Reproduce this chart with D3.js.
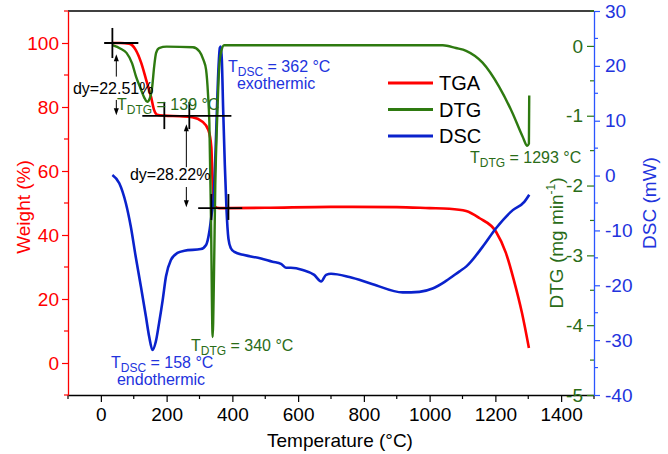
<!DOCTYPE html>
<html><head><meta charset="utf-8">
<script src="https://cdn.jsdelivr.net/npm/d3@7/dist/d3.min.js"></script>
<style>
body{margin:0;background:#fff;}
svg{display:block;font-family:"Liberation Sans",Arial,Helvetica,sans-serif;}
</style></head>
<body><svg id="c" width="668" height="454"></svg>
<script>
// ---------- data ----------
const tgaT = [35, 60, 86, 105, 123, 138, 153, 162, 171, 193, 240, 278, 308, 327, 336, 339, 345, 360, 500, 700, 900, 1000, 1060, 1111, 1151, 1202, 1232, 1256, 1281, 1302];
const tgaW = [100, 100, 99.8, 98, 93.7, 88.4, 83, 79, 77.6, 77.3, 77.1, 76.8, 75.5, 72.8, 67.5, 59, 49, 48.4, 48.5, 48.8, 48.7, 48.4, 48.2, 47.5, 45.3, 41, 34.4, 26, 15.6, 4.7];

const dtgT = [35, 60, 78, 95, 107, 120, 132, 141, 149, 156, 162, 168, 177, 200, 280, 300, 312, 320, 326, 330, 335, 340, 344, 348, 354, 360, 366, 375, 600, 900, 1040, 1080, 1111, 1161, 1212, 1252, 1283, 1297, 1302, 1303];
const dtgV = [0.01, -0.04, -0.1, -0.25, -0.44, -0.6, -0.74, -0.8, -0.75, -0.59, -0.3, -0.1, -0.03, -0.01, -0.02, -0.08, -0.2, -0.34, -0.7, -1.1, -2.5, -4.17, -3.3, -2.0, -1.0, -0.3, -0.08, 0.01, 0.01, 0.01, 0.01, -0.03, -0.07, -0.24, -0.59, -0.96, -1.3, -1.43, -1.4, -0.71];

const dscT = [35, 56, 76, 91, 106, 122, 137, 147, 157, 167, 177, 188, 198, 213, 233, 254, 304, 320, 330, 337, 343, 348, 353, 358, 362, 365, 368, 372, 377, 382, 388, 395, 406, 436, 487, 522, 548, 563, 578, 614, 649, 670, 685, 700, 756, 827, 918, 969, 1009, 1050, 1090, 1111, 1161, 1202, 1253, 1288, 1303];
const dscV = [0.1, -1.4, -5.05, -9.3, -14.8, -20.3, -25.7, -29.4, -31.8, -30.3, -26.9, -22.7, -18.4, -15.4, -14.1, -13.7, -13.4, -12.65, -10.2, -7, -4, 3, 12, 20, 23.3, 23.5, 21, 12, 2, -6, -11.5, -13.2, -13.9, -14.5, -15.1, -15.7, -16.1, -16.8, -16.8, -17.2, -18.1, -19.3, -18.1, -17.9, -18.5, -19.8, -21.3, -21.2, -20.6, -19.2, -17.5, -16.6, -13.0, -9.6, -6.3, -4.8, -3.5];

const xTicks = [0, 200, 400, 600, 800, 1000, 1200, 1400];
const xMinor = [-100, 100, 300, 500, 700, 900, 1100, 1300, 1500];
const wTicks = [0, 20, 40, 60, 80, 100];
const wMinor = [-10, 10, 30, 50, 70, 90, 110];
const dtgTicks = [0, -1, -2, -3, -4, -5];
const dtgMinor = [0.5, -0.5, -1.5, -2.5, -3.5, -4.5];
const dscTicks = [30, 20, 10, 0, -10, -20, -30, -40];
const dscMinor = [25, 15, 5, -5, -15, -25, -35];
const seriesNames = ["TGA", "DTG", "DSC"];

// ---------- colours ----------
const RED = "#ff0000", GREEN = "#2e7a10", GREEN_T = "#2a6c18", BLUE = "#0a22cc", BLUE_AX = "#2a55ff", BLUE_T = "#2233dd";

const svg = d3.select("#c");
const L = 68, R = 594, T = 11, B = 395;
const x = d3.scaleLinear([-100, 1500], [L, R]);
const yW = d3.scaleLinear([-10, 110], [B, T]);
const yD = d3.scaleLinear([-5, 0.5], [B, T]);
const yS = d3.scaleLinear([-40, 30], [B, T]);
const fmt = d => String(d);
const FS = 19;

// ---------- curves ----------
const lineW = d3.line().x(d => x(d[0])).y(d => yW(d[1])).curve(d3.curveMonotoneX);
const lineD = d3.line().x(d => x(d[0])).y(d => yD(d[1])).curve(d3.curveMonotoneX);
const lineS = d3.line().x(d => x(d[0])).y(d => yS(d[1])).curve(d3.curveMonotoneX);
const tga = d3.zip(tgaT, tgaW), dtg = d3.zip(dtgT, dtgV), dsc = d3.zip(dscT, dscV);

svg.append("path").attr("d", lineW(tga)).attr("fill", "none").attr("stroke", RED).attr("stroke-width", 2.6);
svg.append("path").attr("d", lineS(dsc)).attr("fill", "none").attr("stroke", BLUE).attr("stroke-width", 2.6);
svg.append("path").attr("d", lineD(dtg)).attr("fill", "none").attr("stroke", GREEN).attr("stroke-width", 2.4);

// ---------- axes ----------
// top frame
svg.append("line").attr("x1", L).attr("x2", R).attr("y1", T).attr("y2", T).attr("stroke", "#000").attr("stroke-width", 1.3);

function styleAxis(g, col, tcol) {
  g.selectAll("path").attr("stroke", col).attr("stroke-width", 1.3);
  g.selectAll("line").attr("stroke", col).attr("stroke-width", 1.2);
  g.selectAll("text").attr("fill", tcol).attr("font-size", FS).attr("font-family", "Liberation Sans, Arial, sans-serif");
}
// bottom
const gx = svg.append("g").attr("transform", `translate(0,${B})`)
  .call(d3.axisBottom(x).tickValues(xTicks).tickFormat(fmt).tickSizeInner(7).tickSizeOuter(0).tickPadding(6));
styleAxis(gx, "#000", "#000");
gx.selectAll(".minor").data(xMinor).enter().append("line").attr("x1", d => x(d)).attr("x2", d => x(d)).attr("y1", 0).attr("y2", 4).attr("stroke", "#000").attr("stroke-width", 1.2);

// left (weight)
const gl = svg.append("g").attr("transform", `translate(${L},0)`)
  .call(d3.axisLeft(yW).tickValues(wTicks).tickFormat(fmt).tickSizeInner(6).tickSizeOuter(0).tickPadding(3));
styleAxis(gl, RED, RED);
gl.selectAll(".minor").data(wMinor).enter().append("line").attr("y1", d => yW(d)).attr("y2", d => yW(d)).attr("x1", 0).attr("x2", -4).attr("stroke", RED).attr("stroke-width", 1.2);

// right inner (DTG)
const gd = svg.append("g").attr("transform", `translate(${R},0)`)
  .call(d3.axisLeft(yD).tickValues(dtgTicks).tickFormat(fmt).tickSizeInner(7).tickSizeOuter(0).tickPadding(4));
styleAxis(gd, GREEN, GREEN_T);
gd.select("path").remove();
gd.selectAll(".minor").data(dtgMinor).enter().append("line").attr("y1", d => yD(d)).attr("y2", d => yD(d)).attr("x1", 0).attr("x2", -4).attr("stroke", GREEN).attr("stroke-width", 1.2);

// right outer (DSC)
const gs = svg.append("g").attr("transform", `translate(${R},0)`)
  .call(d3.axisRight(yS).tickValues(dscTicks).tickFormat(fmt).tickSizeInner(6).tickSizeOuter(0).tickPadding(5));
styleAxis(gs, BLUE_AX, BLUE_T);
gs.selectAll(".minor").data(dscMinor).enter().append("line").attr("y1", d => yS(d)).attr("y2", d => yS(d)).attr("x1", 0).attr("x2", 4).attr("stroke", BLUE_AX).attr("stroke-width", 1.2);

// axis titles
svg.append("text").attr("x", 340).attr("y", 447).attr("text-anchor", "middle").attr("font-size", FS).text("Temperature (°C)");
svg.append("text").attr("transform", "translate(30,207) rotate(-90)").attr("text-anchor", "middle").attr("font-size", FS).attr("fill", RED).text("Weight (%)");
const tD = svg.append("text").attr("transform", "translate(563,243) rotate(-90)").attr("text-anchor", "middle").attr("font-size", FS).attr("fill", GREEN_T);
tD.append("tspan").text("DTG (mg min");
tD.append("tspan").attr("font-size", 12).attr("dy", -8).text("-1");
tD.append("tspan").attr("dy", 8).text(")");
svg.append("text").attr("transform", "translate(656,203) rotate(-90)").attr("text-anchor", "middle").attr("font-size", FS).attr("fill", BLUE_T).text("DSC (mW)");

// ---------- legend ----------
const legCols = [RED, GREEN, BLUE];
seriesNames.forEach((n, i) => {
  const yy = 83 + i * 26.5;
  svg.append("line").attr("x1", 388).attr("x2", 433).attr("y1", yy).attr("y2", yy).attr("stroke", legCols[i]).attr("stroke-width", 3);
  svg.append("text").attr("x", 439).attr("y", yy + 7.3).attr("font-size", 20).attr("fill", "#000").text(n);
});

// ---------- annotations (data coordinates) ----------
const hLines = [[10, 114, 100], [126, 397, 77.2], [296, 430, 48.4]];
const vLines = [[35, 95.3, 104.7], [193, 73.1, 81.6], [269, 73.1, 81.6], [336, 44.7, 52.8], [388, 44.7, 52.8]];
const arrows = [[47, 89.5, 96.5], [47, 82.2, 77.4], [260, 61.2, 74.6], [260, 55, 48.7]];
const ann = svg.append("g").attr("stroke", "#000").attr("stroke-width", 1.8);
hLines.forEach(h => ann.append("line").attr("x1", x(h[0])).attr("x2", x(h[1])).attr("y1", yW(h[2])).attr("y2", yW(h[2])));
vLines.forEach(v => ann.append("line").attr("x1", x(v[0])).attr("x2", x(v[0])).attr("y1", yW(v[1])).attr("y2", yW(v[2])));
arrows.forEach(a => {
  const xx = x(a[0]), y0 = yW(a[1]), y1 = yW(a[2]);
  const dir = y1 < y0 ? -1 : 1;
  svg.append("line").attr("x1", xx).attr("x2", xx).attr("y1", y0).attr("y2", y1 - dir * 6).attr("stroke", "#000").attr("stroke-width", 1);
  svg.append("path").attr("d", `M${xx},${y1} L${xx - 2.5},${y1 - dir * 7} L${xx + 2.5},${y1 - dir * 7} Z`).attr("fill", "#000");
});

function label(t, w, parts, col) {
  const tx = svg.append("text").attr("x", x(t)).attr("y", yW(w)).attr("font-size", 16).attr("fill", col);
  parts.forEach(p => {
    if (p.sub) tx.append("tspan").attr("font-size", 12).attr("dy", 4).text(p.sub);
    else tx.append("tspan").attr("dy", p.after ? -4 : 0).text(p.s);
  });
}
label(-85, 84.1, [{s: "dy=22.51%"}], "#000");
label(88.5, 57.2, [{s: "dy=28.22%"}], "#000");
label(49, 79, [{s: "T"}, {sub: "DTG"}, {s: " = 139 °C", after: true}], GREEN_T);
label(386.6, 90.9, [{s: "T"}, {sub: "DSC"}, {s: " = 362 °C", after: true}], BLUE_T);
label(414, 85.6, [{s: "exothermic"}], BLUE_T);
label(1122.7, 62.5, [{s: "T"}, {sub: "DTG"}, {s: " = 1293 °C", after: true}], GREEN_T);
label(274, 3.75, [{s: "T"}, {sub: "DTG"}, {s: " = 340 °C", after: true}], GREEN_T);
label(30.7, -1.56, [{s: "T"}, {sub: "DSC"}, {s: " = 158 °C", after: true}], BLUE_T);
label(49, -6.9, [{s: "endothermic"}], BLUE_T);
</script></body></html>
